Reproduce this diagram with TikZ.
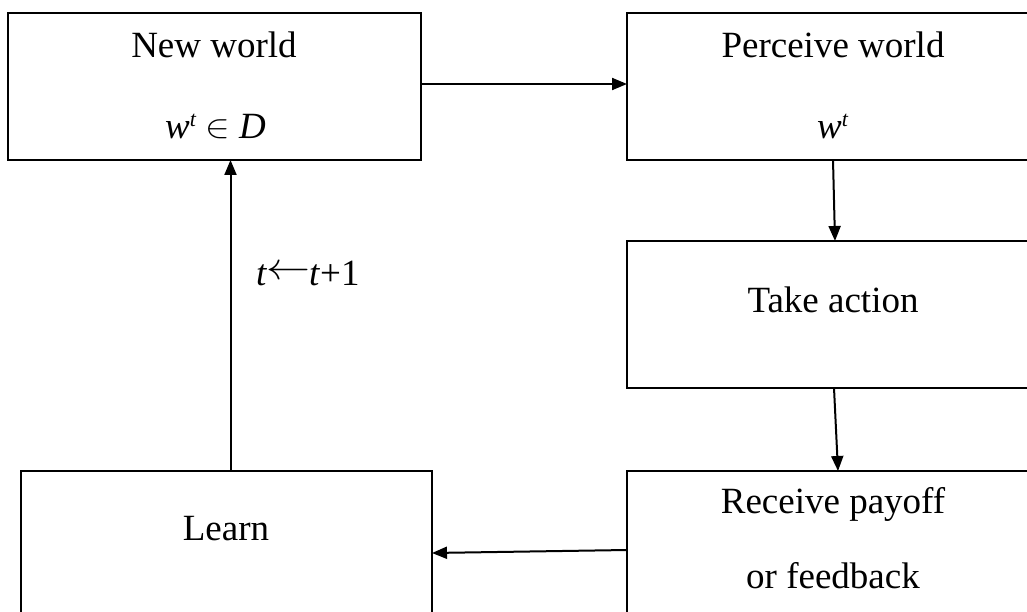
\documentclass[tikz,border=0pt]{standalone}
\usepackage{fontspec}
\setmainfont{Liberation Serif}
\usetikzlibrary{arrows.meta}
\newcommand{\supt}{\raisebox{0.35em}{\fontsize{22}{22}\selectfont\textit{t}}}
\newcommand{\bigin}{\raisebox{0.03em}{\fontsize{10}{12}\selectfont\scalebox{3.7}[3.3]{$\in$}}}
\newcommand{\bigarrow}{\raisebox{0.16em}{\fontsize{10}{12}\selectfont\scalebox{4.4}[3.8]{$\leftarrow$}}}
\begin{document}
\begin{tikzpicture}[x=1pt,y=-1pt,
  box/.style={draw,line width=1.6pt,inner sep=0pt,outer sep=0pt},
  lbl/.style={anchor=base,inner sep=0pt,font=\fontsize{37}{44}\selectfont},
  flow/.style={line width=2pt,-{Triangle[length=15pt,width=12pt]}}]
\useasboundingbox (0,0) rectangle (1027,612);
\clip (0,0) rectangle (1027,612);
% boxes
\node[box,minimum width=413pt,minimum height=147pt] (nw) at (214.5,86.5) {};
\node[box,minimum width=412pt,minimum height=147pt] (pw) at (833,86.5) {};
\node[box,minimum width=412pt,minimum height=147pt] (ta) at (833,314.5) {};
\node[box,minimum width=412pt,minimum height=180pt] (rp) at (833,561) {};
\node[box,minimum width=411pt,minimum height=180pt] (ln) at (226.5,561) {};
% labels
\node[lbl] (nwa) at (214,58) {New world};
\node[lbl,anchor=base west] (nwb) at (165,139) {\textit{w}\supt\kern9pt\bigin\kern9pt\textit{D}};
\node[lbl] (pwa) at (833,58) {Perceive world};
\node[lbl,anchor=base west] (pwb) at (817,139) {\textit{w}\supt};
\node[lbl] (taa) at (833,312) {Take action};
\node[lbl] (rpa) at (833,513) {Receive payoff};
\node[lbl] (rpb) at (833,588) {or feedback};
\node[lbl] (lna) at (226,540) {Learn};
\node[lbl,anchor=base west] (inc) at (256,285) {\textit{t}\kern-1pt\bigarrow\kern-1pt\textit{t}+1};
% connectors
\draw[flow] (nw.east |- 0,84) -- (pw.west |- 0,84);
\draw[flow] (pw.south) -- ([xshift=2pt]ta.north);
\draw[flow] ([xshift=1pt]ta.south) -- ([xshift=5pt]rp.north);
\draw[flow] ([yshift=11pt]rp.west) -- ([yshift=8pt]ln.east);
\draw[flow] ([xshift=4pt]ln.north) -- ([xshift=16pt]nw.south);
\end{tikzpicture}
\end{document}
